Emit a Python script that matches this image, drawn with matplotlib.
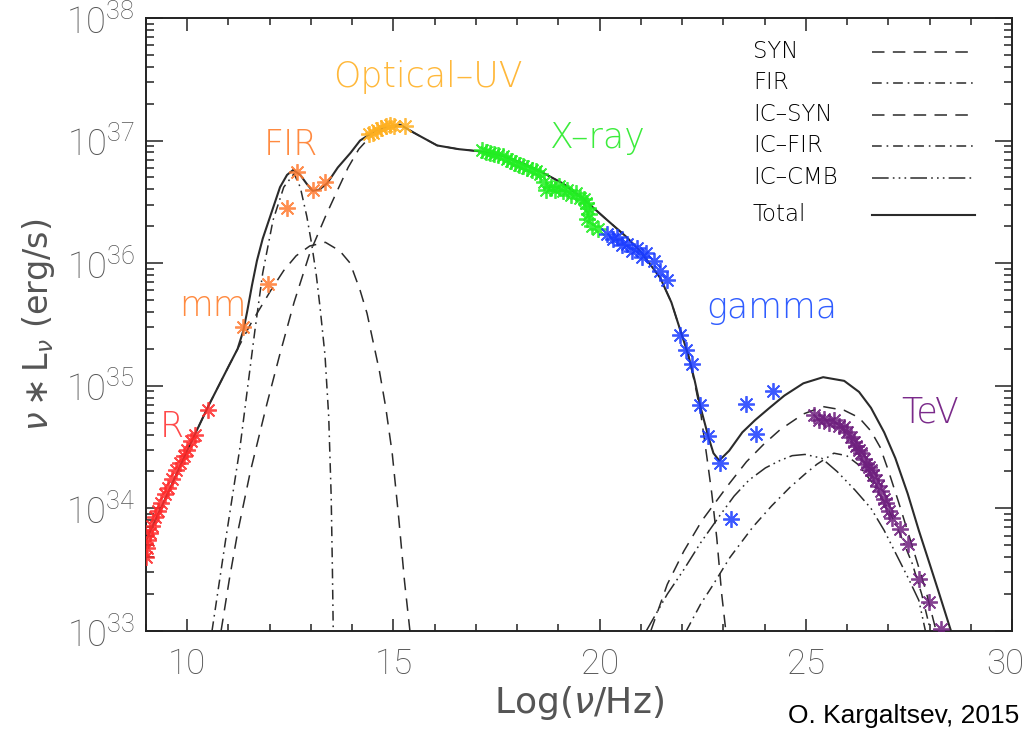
import numpy as np
import matplotlib
matplotlib.use("Agg")
import matplotlib.pyplot as plt
from matplotlib.ticker import FixedLocator, LogFormatterMathtext, LogLocator

plt.rcParams['font.family'] = ['DejaVu Sans']
plt.rcParams['font.weight'] = 'light'
plt.rcParams['mathtext.default'] = 'regular'
plt.rcParams['lines.scale_dashes'] = False
TICKFONT = ['Roboto', 'DejaVu Sans']

# model components: log10(nu/Hz) vs log10(nu L_nu / erg s^-1)
syn_radio_x = [9.0, 9.51, 10.01, 10.52, 11.02, 11.53, 12.03, 12.34, 12.64, 12.97, 13.35, 13.7,
               13.95, 14.19, 14.36, 14.5, 14.66, 14.81, 14.97, 15.12, 15.27, 15.4]
syn_radio_y = [33.74, 34.11, 34.48, 34.84, 35.17, 35.5, 35.78, 35.94, 36.06, 36.14, 36.17, 36.1,
               36.0, 35.78, 35.59, 35.37, 35.12, 34.83, 34.45, 33.95, 33.4, 33.0]

syn_x = [10.82, 11.02, 11.22, 11.53, 11.93, 12.24, 12.59, 12.97, 13.35, 13.65, 13.9, 14.16, 14.46,
         14.84, 15.16, 15.57, 16.06, 16.58, 17.15, 17.6, 18.1, 18.61, 19.11, 19.62, 20.12, 20.63,
         20.98, 21.47, 21.74, 21.94, 22.15, 22.3, 22.45, 22.6, 22.72, 22.84, 22.96, 23.06]
syn_y = [33.0, 33.42, 33.8, 34.3, 34.85, 35.25, 35.68, 36.08, 36.38, 36.6, 36.78, 36.93, 37.04, 37.1,
         37.12, 37.05, 36.96, 36.93, 36.91, 36.88, 36.82, 36.74, 36.65, 36.52, 36.37, 36.22, 36.1,
         35.88, 35.68, 35.47, 35.25, 35.03, 34.78, 34.42, 34.12, 33.76, 33.3, 33.0]

fir_x = [10.6, 10.92, 11.28, 11.45, 11.64, 11.83, 12.08, 12.34, 12.59, 12.74, 12.9, 13.02, 13.13,
         13.22, 13.34, 13.43, 13.49, 13.52, 13.54]
fir_y = [33.0, 33.72, 34.5, 34.95, 35.45, 35.92, 36.35, 36.62, 36.73, 36.62, 36.38, 36.15, 35.9,
         35.64, 35.25, 34.75, 34.1, 33.5, 33.0]

ic_syn_x = [21.24, 21.64, 22.04, 22.48, 23.14, 23.56, 23.97, 24.37, 24.94, 25.42, 25.93, 26.29,
            26.58, 26.8, 27.0, 27.25, 27.5, 27.71, 27.91, 28.16]
ic_syn_y = [33.0, 33.38, 33.65, 33.9, 34.2, 34.38, 34.52, 34.64, 34.77, 34.83, 34.8, 34.74, 34.63,
            34.5, 34.31, 34.05, 33.78, 33.55, 33.33, 33.0]

ic_fir_x = [22.1, 22.45, 22.72, 23.16, 23.72, 24.17, 24.61, 24.98, 25.27, 25.68, 25.99, 26.26,
            26.59, 26.99, 27.3, 27.58, 27.81, 28.01]
ic_fir_y = [33.0, 33.22, 33.36, 33.6, 33.85, 34.02, 34.17, 34.28, 34.36, 34.45, 34.43, 34.36,
            34.22, 34.0, 33.78, 33.55, 33.3, 33.02]

ic_cmb_x = [21.13, 21.64, 22.04, 22.45, 22.89, 23.26, 23.62, 24.02, 24.37, 24.67, 24.98, 25.38,
            25.76, 26.19, 26.58, 26.9, 27.23, 27.5, 27.74, 27.9]
ic_cmb_y = [33.0, 33.3, 33.5, 33.72, 33.93, 34.1, 34.23, 34.33, 34.39, 34.43, 34.44, 34.41, 34.3,
            34.15, 34.0, 33.82, 33.6, 33.42, 33.25, 33.0]

total_x = [9.0, 9.51, 10.01, 10.52, 11.02, 11.22, 11.36, 11.45, 11.57, 11.69, 11.83, 12.0, 12.14,
           12.25, 12.42, 12.57, 12.74, 12.89, 13.04, 13.2, 13.39, 13.65, 13.96, 14.19, 14.56,
           14.85, 15.16, 15.57, 16.06, 16.58, 17.15, 17.6, 18.1, 18.61, 19.11, 19.62, 20.12,
           20.63, 20.98, 21.47, 21.74, 21.94, 22.15, 22.3, 22.45, 22.64, 22.76, 22.9, 23.14,
           23.46, 23.77, 24.12, 24.48, 24.94, 25.42, 25.93, 26.29, 26.58, 26.9, 27.17, 27.47,
           27.74, 28.0, 28.21, 28.52]
total_y = [33.74, 34.11, 34.48, 34.84, 35.17, 35.3, 35.45, 35.6, 35.82, 36.02, 36.2, 36.37, 36.51,
           36.62, 36.72, 36.76, 36.72, 36.65, 36.59, 36.6, 36.65, 36.78, 36.9, 37.0, 37.08, 37.11,
           37.13, 37.05, 36.96, 36.93, 36.91, 36.88, 36.82, 36.74, 36.65, 36.52, 36.37, 36.22,
           36.1, 35.88, 35.68, 35.47, 35.25, 35.05, 34.82, 34.58, 34.45, 34.39, 34.47, 34.62,
           34.72, 34.82, 34.92, 35.02, 35.07, 35.04, 34.95, 34.82, 34.62, 34.41, 34.12, 33.82,
           33.55, 33.33, 33.0]

# measured points
radio_x = [9.0, 9.02, 9.05, 9.1, 9.14, 9.22, 9.29, 9.36, 9.47, 9.54, 9.63, 9.73, 9.83, 9.92,
           9.99, 10.09, 10.19, 10.51]
radio_y = [33.6, 33.68, 33.74, 33.8, 33.86, 33.93, 33.98, 34.04, 34.12, 34.17, 34.24, 34.31,
           34.37, 34.43, 34.48, 34.55, 34.6, 34.8]
mm_x = [11.36, 11.96]
mm_y = [35.48, 35.83]
firpt_x = [12.42, 12.66, 13.04, 13.34]
firpt_y = [36.45, 36.74, 36.6, 36.66]
opt_x = [14.41, 14.51, 14.61, 14.71, 14.81, 14.91, 15.01, 15.27]
opt_y = [37.05, 37.06, 37.09, 37.1, 37.12, 37.13, 37.12, 37.12]
xray_x = [17.14, 17.24, 17.34, 17.44, 17.54, 17.65, 17.75, 17.85, 17.95, 18.05, 18.15, 18.25,
          18.35, 18.45, 18.56, 18.66, 18.71, 18.81, 18.91, 19.01, 19.11, 19.21, 19.31, 19.42,
          19.52, 19.62, 19.67, 19.72, 19.74, 19.7, 19.82, 19.96]
xray_y = [36.92, 36.91, 36.9, 36.89, 36.88, 36.87, 36.85, 36.83, 36.82, 36.8, 36.79, 36.78,
          36.76, 36.75, 36.73, 36.66, 36.6, 36.62, 36.6, 36.63, 36.59, 36.6, 36.56, 36.57, 36.53,
          36.52, 36.49, 36.45, 36.4, 36.36, 36.3, 36.28]
gamma_x = [20.17, 20.33, 20.43, 20.55, 20.66, 20.78, 20.9, 21.03, 21.13, 21.31, 21.47, 21.64,
           21.94, 22.1, 22.24, 22.43, 22.63, 22.91, 23.19, 23.55, 23.8, 24.21]
gamma_y = [36.24, 36.2, 36.21, 36.15, 36.16, 36.1, 36.12, 36.05, 36.08, 36.02, 35.94, 35.86,
           35.41, 35.29, 35.18, 34.84, 34.59, 34.37, 33.91, 34.85, 34.61, 34.96]
tev_x = [25.2, 25.33, 25.44, 25.56, 25.68, 25.81, 25.93, 26.01, 26.09, 26.16, 26.22, 26.29,
         26.34, 26.41, 26.46, 26.52, 26.58, 26.64, 26.7, 26.76, 26.83, 26.9, 26.95, 27.02,
         27.09, 27.28, 27.48, 27.75, 27.99, 28.28]
tev_y = [34.76, 34.72, 34.73, 34.7, 34.72, 34.67, 34.66, 34.62, 34.58, 34.54, 34.51, 34.48,
         34.45, 34.4, 34.36, 34.34, 34.31, 34.27, 34.23, 34.18, 34.14, 34.08, 34.04, 33.98,
         33.92, 33.83, 33.71, 33.42, 33.24, 33.02]

x_ticks = [10, 15, 20, 25, 30]

DASH = (0, (9, 6))
DASHDOT = (0, (7, 3.5, 1.2, 3.5))
DASH3DOT = (0, (12, 3, 1.2, 3, 1.2, 3, 1.2, 3))
LC = '#2b2b2b'
GREY = '#555555'

fig = plt.figure(figsize=(10.29, 7.36), dpi=100)
ax = fig.add_axes([0.1419, 0.1427, 0.8416, 0.8329])

def curve(x, y, ls, lw=1.1):
    ax.plot(x, 10 ** np.array(y), color=LC, ls=ls, lw=lw, zorder=2)

curve(syn_radio_x, syn_radio_y, DASH)
curve(syn_x, syn_y, DASH)
curve(fir_x, fir_y, DASHDOT)
curve(ic_syn_x, ic_syn_y, DASH)
curve(ic_fir_x, ic_fir_y, DASHDOT)
curve(ic_cmb_x, ic_cmb_y, DASH3DOT)
curve(total_x, total_y, '-', lw=1.5)

star = (8, 2, 0)
def pts(x, y, c):
    ax.plot(x, 10 ** np.array(y), ls='none', marker=star, ms=12, mew=1.3,
            color=c, alpha=0.85, zorder=3)

pts(radio_x, radio_y, '#ff2a2a')
pts(mm_x, mm_y, '#ff7a30')
pts(firpt_x, firpt_y, '#ff7a30')
pts(opt_x, opt_y, '#ffb020')
pts(xray_x, xray_y, '#22ee22')
pts(gamma_x, gamma_y, '#1a3cff')
pts(tev_x, tev_y, '#6e1f7e')

# band labels
lab = dict(fontsize=25, ha='center', va='baseline')
ax.text(9.63, 10 ** 34.58, 'R', color='#ff4a4a', **lab)
ax.text(10.62, 10 ** 35.57, 'mm', color='#ff8a40', **lab)
ax.text(12.52, 10 ** 36.88, 'FIR', color='#ff8a40', **lab)
ax.text(15.84, 10 ** 37.44, 'Optical–UV', color='#ffb83a', **lab)
ax.text(19.96, 10 ** 36.94, 'X–ray', color='#3cec3c', **lab)
ax.text(24.18, 10 ** 35.55, 'gamma', color='#2f5cff', **lab)
ax.text(28.01, 10 ** 34.70, 'TeV', color='#7a2a8a', **lab)

# legend: name on the left, line sample on the right
leg_names = ['SYN', 'FIR', 'IC–SYN', 'IC–FIR', 'IC–CMB', 'Total']
leg_styles = [DASH, DASHDOT, DASH, DASHDOT, DASH3DOT, '-']
leg_rows = [52, 83, 115, 146, 178, 215]
for name, ls, py in zip(leg_names, leg_styles, leg_rows):
    fy = (631 - py) / 613
    ax.text((753 - 146) / 866, fy, name, transform=ax.transAxes, fontsize=16.5,
            ha='left', va='center')
    ax.plot([(872 - 146) / 866, (975 - 146) / 866], [fy, fy], transform=ax.transAxes,
            color=LC, ls=ls, lw=1.5 if ls == '-' else 1.1)

ax.set_xlim(9, 30)
ax.set_yscale('log')
ax.set_ylim(1e33, 1e38)
# last label is placed by hand so it stays inside the figure
ax.set_xticks(x_ticks, labels=[str(t) for t in x_ticks[:-1]] + [''])
ax.xaxis.set_minor_locator(FixedLocator(np.arange(9, 31, 1)))
ax.yaxis.set_major_locator(LogLocator(base=10))
ax.yaxis.set_minor_locator(LogLocator(base=10, subs=np.arange(2, 10)))
ax.yaxis.set_major_formatter(LogFormatterMathtext())
ax.tick_params(which='both', direction='in', top=True, right=True, width=1.1, colors='#222222')
ax.tick_params(axis='x', which='major', length=9, pad=12, labelsize=25, labelcolor=GREY)
ax.tick_params(axis='x', which='minor', length=5)
ax.tick_params(axis='y', which='major', length=12, pad=8, labelsize=26, labelcolor=GREY)
ax.tick_params(axis='y', which='minor', length=6)
for lbl in ax.get_xticklabels() + ax.get_yticklabels():
    lbl.set_family(TICKFONT)
ax.annotate(str(x_ticks[-1]), xy=(x_ticks[-1], 0), xycoords=('data', 'axes fraction'),
            xytext=(-5, -12), textcoords='offset points', ha='center', va='top',
            fontsize=25, color=GREY, family=TICKFONT)
for s in ax.spines.values():
    s.set_linewidth(1.4)
    s.set_color('#222222')

ax.set_xlabel(r'Log($\mathit{\nu}$/Hz)', fontsize=26, color=GREY, labelpad=2)
ax.set_ylabel(r'$\mathit{\nu}\ast$L$_{\mathit{\nu}}$ (erg/s)', fontsize=24, color=GREY,
              labelpad=6)

fig.text(0.991, (736 - 723) / 736, 'O. Kargaltsev, 2015', ha='right', va='baseline',
         fontsize=19, family=['Liberation Sans Narrow', 'Liberation Sans'], weight='normal')

fig.savefig('out.png', dpi=100)
